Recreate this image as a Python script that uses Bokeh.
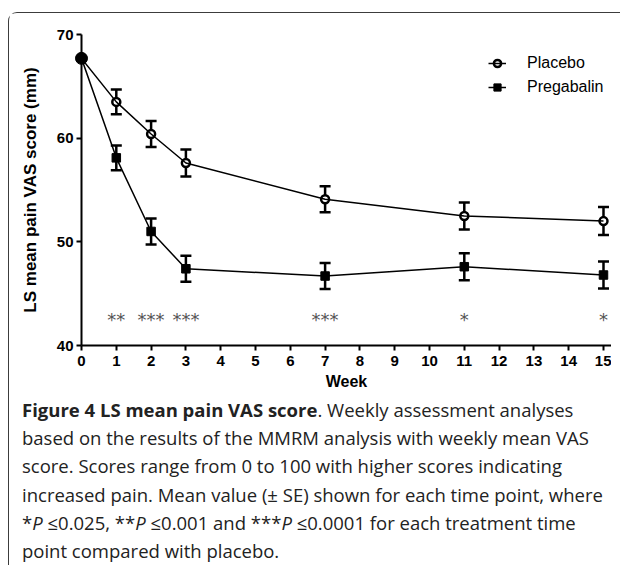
from bokeh.plotting import figure
from bokeh.models import (ColumnDataSource, Whisker, TeeHead, Legend, LegendItem,
                          Div, FixedTicker, Range1d, GlobalInlineStyleSheet)
from bokeh.layouts import column
from bokeh.core.properties import value
from bokeh.embed import file_html
from bokeh.resources import INLINE

# ---- data ----
weeks = [0, 1, 2, 3, 7, 11, 15]
placebo = [67.7, 63.5, 60.4, 57.6, 54.1, 52.5, 52.0]
placebo_se = [0.0, 1.2, 1.25, 1.3, 1.25, 1.3, 1.35]
pregabalin = [67.7, 58.1, 51.0, 47.4, 46.7, 47.6, 46.8]
pregabalin_se = [0.0, 1.2, 1.25, 1.25, 1.25, 1.3, 1.3]
sig_weeks = [1, 2, 3, 7, 11, 15]
sig_labels = ["**", "***", "***", "***", "*", "*"]
x_ticks = list(range(0, 16))
y_ticks = [40, 50, 60, 70]

FONT = "Liberation Sans"

p = figure(width=602, height=383, output_backend="svg", toolbar_location=None,
           x_range=Range1d(0, 15.23), y_range=Range1d(40, 70),
           min_border_left=72, min_border_right=0, min_border_top=21,
           min_border_bottom=51, margin=(0, 0, 0, 0))
p.outline_line_color = None
p.grid.visible = False
p.background_fill_color = "white"
p.border_fill_color = "white"

for ax in (p.xaxis[0], p.yaxis[0]):
    ax.axis_line_width = 2
    ax.major_tick_line_width = 2
    ax.major_tick_out = 5
    ax.major_tick_in = 0
    ax.minor_tick_line_color = None
    ax.major_label_text_font = FONT
    ax.major_label_text_font_style = "bold"
    ax.major_label_text_font_size = "15px"
    ax.major_label_text_color = "black"
    ax.axis_label_text_font = FONT
    ax.axis_label_text_font_style = "bold"
    ax.axis_label_text_color = "black"

p.xaxis.ticker = FixedTicker(ticks=x_ticks)
p.yaxis.ticker = FixedTicker(ticks=y_ticks)
p.xaxis.bounds = (0, 15.23)
p.xaxis.axis_label = "Week"
p.xaxis.axis_label_text_font_size = "16px"
p.xaxis.axis_label_standoff = 4
p.xaxis.major_label_standoff = 5
p.yaxis.axis_label = "LS mean pain VAS score (mm)"
p.yaxis.axis_label_text_font_size = "17px"
p.yaxis.axis_label_standoff = 14
p.yaxis.major_label_standoff = 3

src_pl = ColumnDataSource(dict(
    x=weeks[1:], y=placebo[1:],
    lo=[v - e for v, e in zip(placebo[1:], placebo_se[1:])],
    hi=[v + e for v, e in zip(placebo[1:], placebo_se[1:])]))
src_pr = ColumnDataSource(dict(
    x=weeks[1:], y=pregabalin[1:],
    lo=[v - e for v, e in zip(pregabalin[1:], pregabalin_se[1:])],
    hi=[v + e for v, e in zip(pregabalin[1:], pregabalin_se[1:])]))

for src in (src_pl, src_pr):
    w = Whisker(source=src, base="x", upper="hi", lower="lo", dimension="height",
                line_width=2.5, line_color="black",
                upper_head=TeeHead(size=11, line_width=2.5, line_color="black"),
                lower_head=TeeHead(size=11, line_width=2.5, line_color="black"))
    p.add_layout(w)

pr_sc = p.scatter("x", "y", source=src_pr, marker="square", size=8.5,
                  fill_color="black", line_color="black", line_width=1)
pl_sc = p.scatter("x", "y", source=src_pl, marker="circle", size=8,
                  fill_color="white", line_color="black", line_width=2.5)
pl_line = p.line(weeks, placebo, line_color="black", line_width=1.5)
pr_line = p.line(weeks, pregabalin, line_color="black", line_width=1.5)

base = p.scatter([weeks[0]], [placebo[0]], marker="circle", size=12,
                 fill_color="black", line_color="black")
base.level = "overlay"

p.text(x=sig_weeks, y=[43.6] * len(sig_weeks), text=sig_labels,
       text_font=value("DejaVu Sans"), text_font_size="18px",
       text_color="#555555", text_align="center", text_baseline="alphabetic",
       y_offset=11)

legend = Legend(items=[LegendItem(label="Placebo", renderers=[pl_sc, pl_line]),
                       LegendItem(label="Pregabalin", renderers=[pr_sc, pr_line])],
                location=(407, 246), orientation="vertical",
                glyph_width=18, glyph_height=24, label_height=24, spacing=0,
                padding=0, margin=0, label_standoff=21,
                label_text_font=FONT, label_text_font_size="16px",
                label_text_color="black",
                border_line_color=None, background_fill_alpha=0)
p.add_layout(legend)

lines = [
    "<b>Figure 4 LS mean pain VAS score</b>. Weekly assessment analyses",
    "based on the results of the MMRM analysis with weekly mean VAS",
    "score. Scores range from 0 to 100 with higher scores indicating",
    "increased pain. Mean value (&plusmn; SE) shown for each time point, where",
    "*<i>P</i> &le;0.025, **<i>P</i> &le;0.001 and ***<i>P</i> &le;0.0001 for each treatment time",
    "point compared with placebo.",
]
html = ('<div style="margin-left:13px; font-family:\'Open Sans\'; '
        'font-size:18.5px; line-height:28.2px; color:#222; white-space:nowrap;">'
        + "<br>".join(lines) + "</div>")
cap = Div(text=html, width=611, height=169, margin=(0, 0, 0, 0))

page_css = GlobalInlineStyleSheet(css="html, body { overflow: hidden; }")

layout = column(p, cap, styles={"border-style": "solid none none solid",
                                "border-width": "1px",
                                "border-color": "#3c3c3c",
                                "border-top-left-radius": "9px",
                                "margin": "12px 0px 0px 8px"},
                stylesheets=[page_css])

open("out.html", "w").write(file_html(layout, INLINE))
